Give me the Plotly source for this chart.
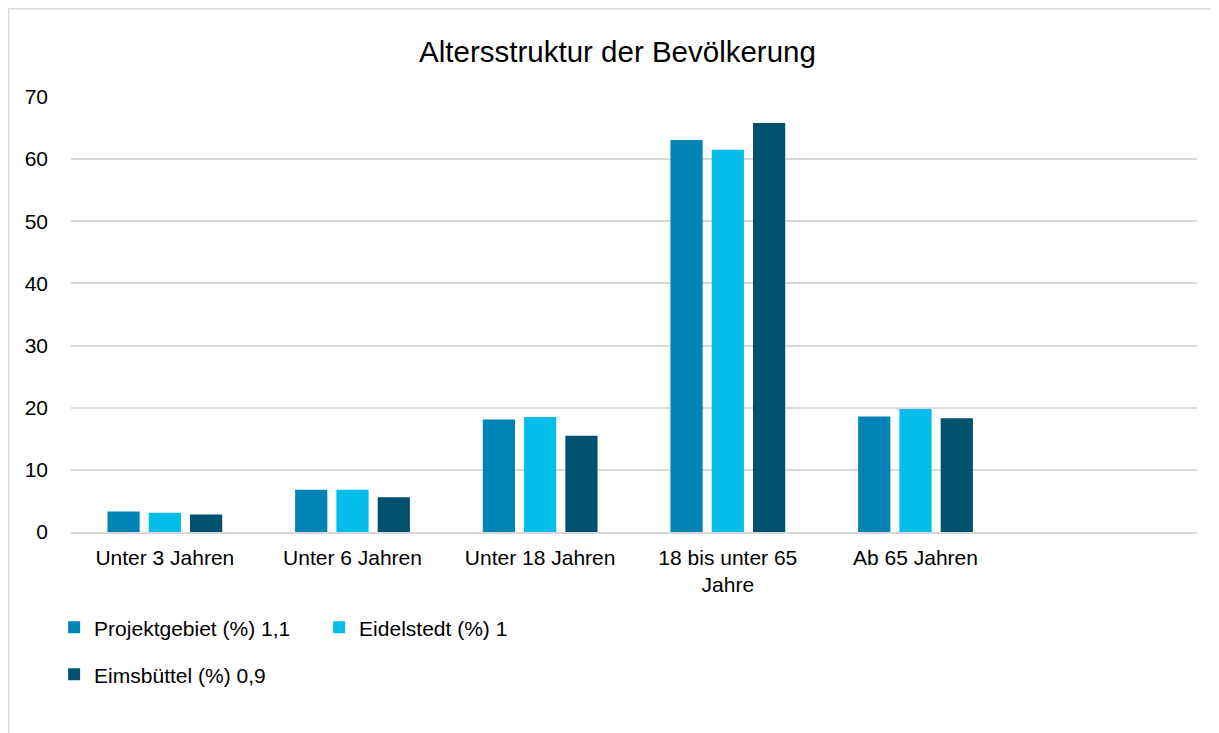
import plotly.graph_objects as go

categories = ["Unter 3 Jahren", "Unter 6 Jahren", "Unter 18 Jahren",
              "18 bis unter 65<br>Jahre", "Ab 65 Jahren"]
projektgebiet = [3.3, 6.8, 18.1, 63.1, 18.6]
eidelstedt = [3.1, 6.8, 18.5, 61.5, 19.8]
eimsbuettel = [2.8, 5.6, 15.5, 65.8, 18.3]
series_names = ["Projektgebiet (%) 1,1", "Eidelstedt (%) 1", "Eimsbüttel (%) 0,9"]
colors = ["#0084B6", "#05BDEB", "#00506F"]

font = "Liberation Sans, Arial, sans-serif"

fig = go.Figure()
for name, vals, col, leg in zip(series_names, [projektgebiet, eidelstedt, eimsbuettel],
                                colors, ["legend", "legend", "legend2"]):
    fig.add_trace(go.Bar(x=categories, y=vals, name=name, marker_color=col,
                         marker_line_width=0, legend=leg))

# page body has an 8px margin, so margins are shifted up/left by 8
fig.update_layout(
    width=1219, height=733,
    margin=dict(l=63, r=30, t=89, b=209),
    paper_bgcolor="white", plot_bgcolor="white",
    font=dict(family=font, size=21, color="#000000"),
    title=dict(text="Altersstruktur der Bevölkerung", x=0.5, xanchor="center",
               y=0.94, yanchor="middle", font=dict(size=29.5, color="#000000")),
    bargap=0.34, bargroupgap=0.22,
    legend=dict(orientation="h", x=-0.015, xanchor="left", y=-0.22, yanchor="middle",
                entrywidth=220, entrywidthmode="pixels", traceorder="normal",
                font=dict(size=21), bgcolor="rgba(0,0,0,0)"),
    legend2=dict(orientation="h", x=-0.015, xanchor="left", y=-0.328, yanchor="middle",
                 font=dict(size=21), bgcolor="rgba(0,0,0,0)"),
    xaxis=dict(type="category", categoryorder="array", categoryarray=categories,
               range=[-0.5, 5.5], showgrid=False, showline=True, linecolor="#D9D9D9",
               linewidth=1.5, ticks="", ticklabelstandoff=6,
               tickfont=dict(size=21)),
    yaxis=dict(range=[0, 70], dtick=10, showgrid=True, gridcolor="#D9D9D9",
               gridwidth=1.5, zeroline=False, showline=False, ticks="",
               ticklabelstandoff=22, tickfont=dict(size=21)),
    shapes=[dict(type="rect", xref="paper", yref="paper",
                 x0=-0.0553, x1=1.05, y0=-0.7, y1=1.2029,
                 line=dict(color="#D9D9D9", width=1.5), fillcolor="rgba(0,0,0,0)",
                 layer="below")],
)

fig.write_html("out.html")
